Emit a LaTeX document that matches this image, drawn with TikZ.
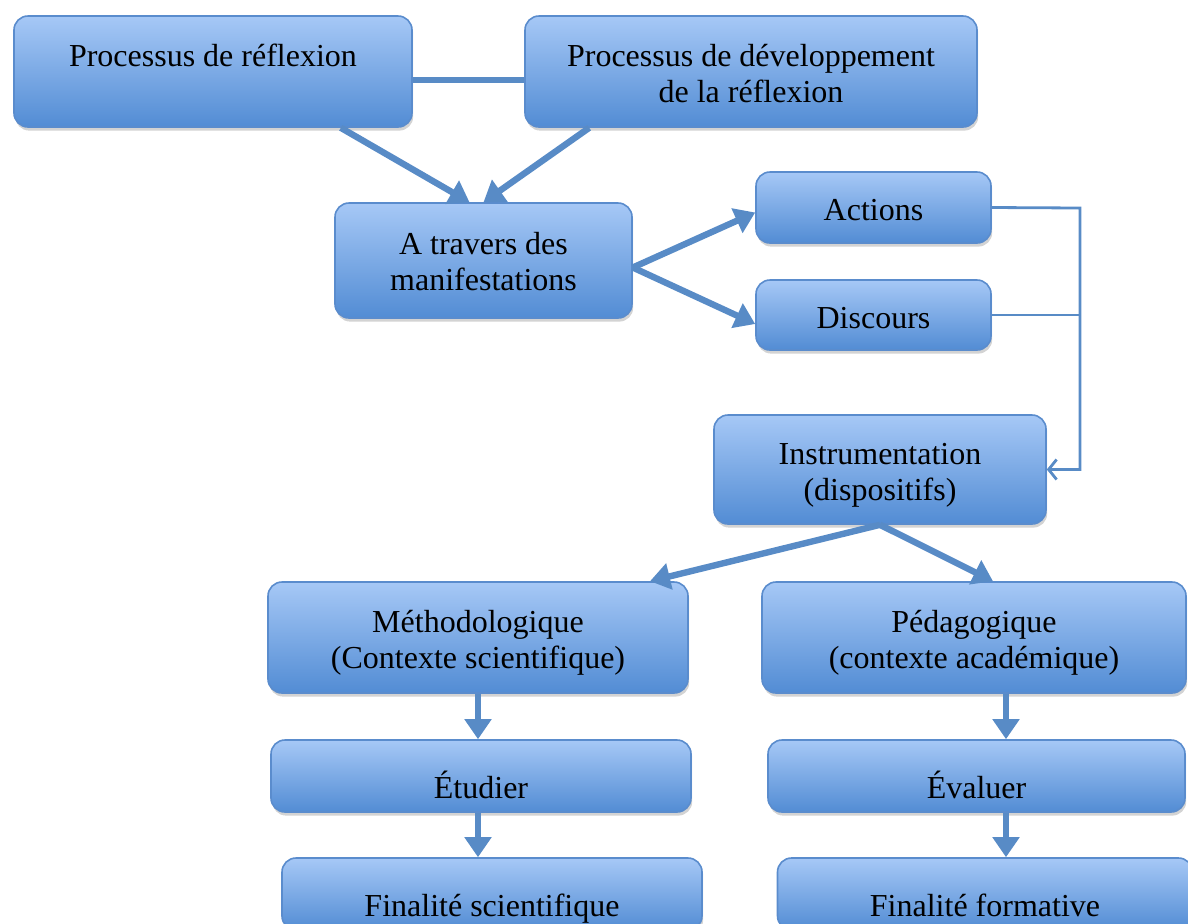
\documentclass[tikz,border=0pt]{standalone}
\usepackage{fontspec}
\setmainfont{Liberation Serif}
\usetikzlibrary{arrows.meta,shadows}
\definecolor{boxtop}{RGB}{166,200,246}
\definecolor{boxbot}{RGB}{82,140,212}
\definecolor{boxline}{RGB}{90,140,205}
\definecolor{fleche}{RGB}{88,139,198}
\begin{document}
\begin{tikzpicture}[x=0.5pt,y=-0.5pt,
  boite/.style={rectangle, rounded corners=7pt, draw=boxline, line width=0.8pt,
    top color=boxtop, bottom color=boxbot, inner sep=0pt, align=center,
    font=\fontsize{16}{18}\selectfont, text depth=0pt,
    drop shadow={opacity=0.35, shadow xshift=0.6pt, shadow yshift=-1.8pt}},
  fl/.style={draw=fleche, line width=3.2pt, -{Triangle[length=10pt,width=13pt]}},
  fin/.style={draw=fleche, line width=1.4pt, -{Straight Barb[length=4pt,width=10pt]}}]
\useasboundingbox (0,0) rectangle (1188,923);
\node[boite, minimum width=199pt, minimum height=55.5pt, text height=30.5pt] (p1) at (213,71.5){Processus de réflexion\\\mbox{}};
\node[boite, minimum width=226pt, minimum height=55.5pt, text height=30.5pt] (p2) at (751,71.5){Processus de développement\\de la réflexion};
\draw[draw=fleche, line width=3pt]([yshift=-4pt]p1.east) -- ([yshift=-4pt]p2.west);
\node[boite, minimum width=148.5pt, minimum height=57.5pt, text height=29.5pt] (man) at (483.5,260.5){A travers des\\manifestations};
\draw[fl]([xshift=-36pt]p1.south east) -- ([xshift=-7pt]man.north);
\draw[fl]([xshift=32.5pt]p2.south west) -- ([xshift=0pt]man.north);
\node[boite, minimum width=117.5pt, minimum height=35.5pt, text height=12.5pt] (act) at (873.5,207.5){Actions};
\node[boite, minimum width=117.5pt, minimum height=35pt, text height=13pt] (dis) at (873.5,315){Discours};
\draw[fl]([yshift=-3.5pt]man.east) -- ([yshift=-2.5pt]act.west);
\draw[fl]([yshift=-3.5pt]man.east) -- ([yshift=-4.5pt]dis.west);
\node[boite, minimum width=166pt, minimum height=54.5pt, text height=30.5pt] (inst) at (880,469.5){Instrumentation\\(dispositifs)};
\coordinate (jn) at (1080,208);
\draw[fin](act.east) -- (jn) |- (inst.east);
\draw[draw=fleche, line width=1.4pt](dis.east) -- (dis.east -| jn);
\node[boite, minimum width=210pt, minimum height=55.5pt, text height=31pt] (meth) at (478,637.5){Méthodologique\\(Contexte scientifique)};
\node[boite, minimum width=212pt, minimum height=55.5pt, text height=31pt] (peda) at (974,637.5){Pédagogique\\(contexte académique)};
\draw[fl](inst.south) -- ([xshift=86pt]meth.north);
\draw[fl](inst.south) -- ([xshift=9.5pt]peda.north);
\node[boite, minimum width=210pt, minimum height=36pt, text height=22pt] (etu) at (481,776){Étudier};
\node[boite, minimum width=208.5pt, minimum height=36pt, text height=22pt] (eva) at (976.5,776){Évaluer};
\draw[fl](meth.south) -- ([xshift=-1.5pt]etu.north);
\draw[fl]([xshift=16pt]peda.south) -- ([xshift=14.75pt]eva.north);
\node[boite, minimum width=210pt, minimum height=36pt, text height=22pt] (fsci) at (492,894){Finalité scientifique};
\node[boite, minimum width=207.5pt, minimum height=36pt, text height=22pt] (fform) at (985,894){Finalité formative};
\draw[fl]([xshift=-1.5pt]etu.south) -- ([xshift=-7pt]fsci.north);
\draw[fl]([xshift=14.75pt]eva.south) -- ([xshift=10.5pt]fform.north);
\end{tikzpicture}
\end{document}
